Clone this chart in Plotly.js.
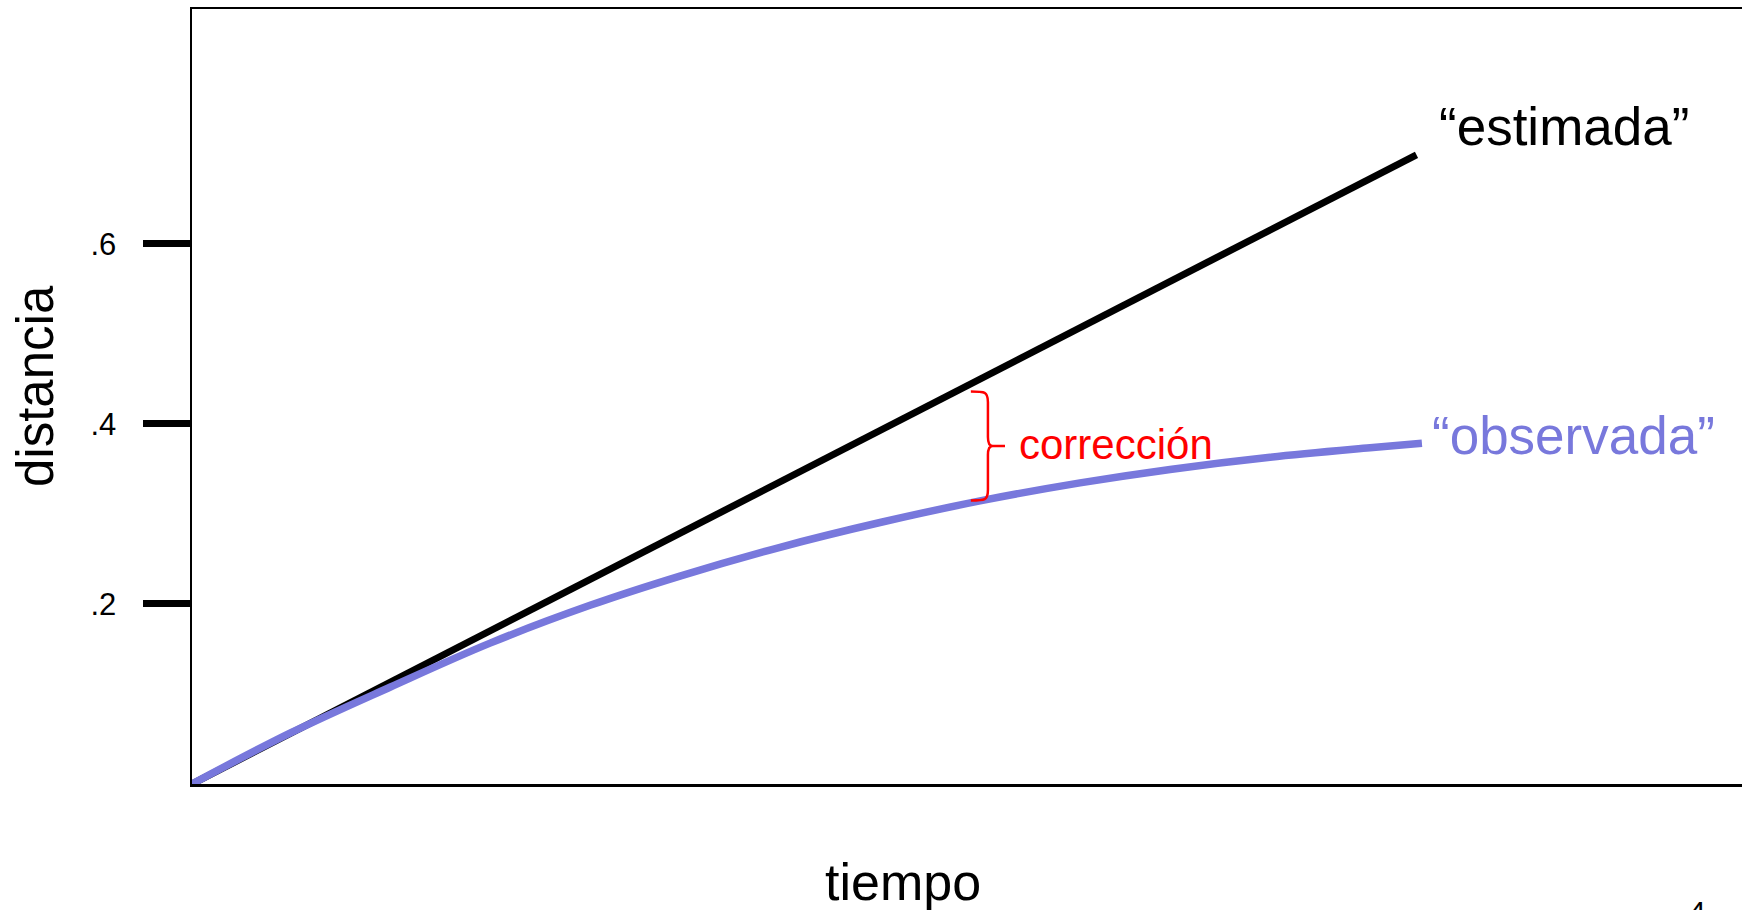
<!DOCTYPE html>
<html>
<head>
<meta charset="utf-8">
<script src="https://cdn.plot.ly/plotly-3.0.1.min.js"></script>
<style>
  html, body { margin: 0; padding: 0; background: #ffffff; }
  #chart { width: 1742px; height: 910px; }
</style>
</head>
<body>
<div id="chart"></div>
<script>
// ---- data (tiempo in arbitrary units, distancia) ----
const estimadaX = [0, 7.9];
const estimadaY = [0, 0.699];

const observadaX = [0, 0.632, 1.277, 1.923, 2.568, 3.148, 3.794, 4.439, 5.084, 5.729, 6.31, 6.955, 7.6, 7.935];
const observadaY = [0, 0.0565, 0.1075, 0.1565, 0.1985, 0.231, 0.263, 0.2905, 0.3145, 0.3345, 0.3495, 0.363, 0.3735, 0.3785];

const tickVals = [0.2, 0.4, 0.6];
const tickText = ['.2', '.4', '.6'];

const labelEstimada = '\u201cestimada\u201d';
const labelObservada = '\u201cobservada\u201d';
const labelCorreccion = 'corrección';
const xTitle = 'tiempo';
const yTitle = 'distancia';
const pageNumber = '4';

// correction bracket (time position, top and bottom distance values)
const braceX = 5.135;
const braceTop = 0.436;
const braceBottom = 0.315;

// ---- styling ----
const FONT = 'Liberation Sans, Arial, Helvetica, sans-serif';
const BLUE = 'rgb(120,120,220)';
const RED = '#ff0000';

const braceMid = (braceTop + braceBottom) / 2;
const arm = 0.11, ry = 0.012;
const bracePath =
  `M ${braceX - arm},${braceTop} C ${braceX - 0.02},${braceTop} ${braceX},${braceTop} ${braceX},${braceTop - ry} ` +
  `L ${braceX},${braceMid + 0.01} Q ${braceX},${braceMid} ${braceX + 0.03},${braceMid} L ${braceX + arm},${braceMid} ` +
  `M ${braceX + 0.03},${braceMid} Q ${braceX},${braceMid} ${braceX},${braceMid - 0.01} ` +
  `L ${braceX},${braceBottom + ry} C ${braceX},${braceBottom} ${braceX - 0.02},${braceBottom} ${braceX - arm},${braceBottom}`;

const traces = [
  {
    x: estimadaX, y: estimadaY, type: 'scatter', mode: 'lines',
    line: { color: '#000000', width: 7 }, hoverinfo: 'skip', showlegend: false
  },
  {
    x: observadaX, y: observadaY, type: 'scatter', mode: 'lines',
    line: { color: BLUE, width: 7.5, shape: 'spline', smoothing: 1 }, hoverinfo: 'skip', showlegend: false
  }
];

const layout = {
  width: 1742, height: 910,
  margin: { l: 192, r: 0, t: 9, b: 126, pad: 0 },
  paper_bgcolor: '#ffffff', plot_bgcolor: '#ffffff',
  showlegend: false,
  font: { family: FONT, color: '#000000' },
  xaxis: {
    range: [0, 10], showgrid: false, zeroline: false,
    showline: true, mirror: true, linecolor: '#000000', linewidth: 2.5,
    showticklabels: false, ticks: '', fixedrange: true
  },
  yaxis: {
    range: [0, 0.861], showgrid: false, zeroline: false,
    showline: true, mirror: false, linecolor: '#000000', linewidth: 2.5,
    tickmode: 'array', tickvals: tickVals, ticktext: tickText,
    ticks: 'outside', ticklen: 47, tickwidth: 7, tickcolor: '#000000',
    tickfont: { family: FONT, size: 31, color: '#000000' },
    ticklabelstandoff: 20, fixedrange: true
  },
  shapes: [
    { type: 'path', xref: 'x', yref: 'y', path: bracePath, line: { color: RED, width: 2.5 } }
  ],
  annotations: [
    { x: 8.03, y: 0.73, xref: 'x', yref: 'y', text: labelEstimada, showarrow: false,
      xanchor: 'left', yanchor: 'middle', font: { family: FONT, size: 53, color: '#000000' } },
    { x: 7.99, y: 0.387, xref: 'x', yref: 'y', text: labelObservada, showarrow: false,
      xanchor: 'left', yanchor: 'middle', font: { family: FONT, size: 53, color: BLUE } },
    { x: 5.323, y: 0.377, xref: 'x', yref: 'y', text: labelCorreccion, showarrow: false,
      xanchor: 'left', yanchor: 'middle', font: { family: FONT, size: 42, color: RED } },
    { x: 0.4587, y: -0.1265, xref: 'paper', yref: 'paper', text: xTitle, showarrow: false,
      xanchor: 'center', yanchor: 'middle', font: { family: FONT, size: 52, color: '#000000' } },
    { x: -0.1013, y: 0.5135, xref: 'paper', yref: 'paper', text: yTitle, showarrow: false, textangle: -90,
      xanchor: 'center', yanchor: 'middle', font: { family: FONT, size: 51, color: '#000000' } },
    { x: 0.971, y: -0.165, xref: 'paper', yref: 'paper', text: pageNumber, showarrow: false,
      xanchor: 'center', yanchor: 'middle', font: { family: FONT, size: 30, color: '#000000' } }
  ]
};

Plotly.newPlot('chart', traces, layout, { staticPlot: true, displayModeBar: false });
</script>
</body>
</html>
